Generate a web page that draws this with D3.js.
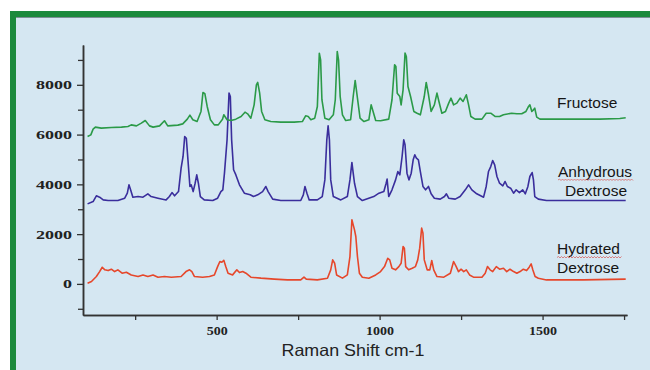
<!DOCTYPE html>
<html>
<head>
<meta charset="utf-8">
<script src="https://cdn.jsdelivr.net/npm/d3@7"></script>
<style>
  body { margin: 0; background: #fff; }
  svg { display: block; }
</style>
</head>
<body>
<div id="chart"></div>
<script>
// Raman spectra, [shift cm-1, intensity].
const fructose = [
  [104,5920],[114,5990],[121,6220],[128,6300],[146,6260],[177,6285],[208,6300],[228,6325],[238,6390],[254,6350],
  [269,6460],[281,6565],[294,6350],[305,6300],[325,6350],[340,6555],[350,6350],[381,6380],[396,6430],[410,6620],
  [418,6780],[427,6595],[440,6525],[452,6930],[458,7690],[464,7640],[471,7130],[481,6595],[493,6390],[505,6390],
  [518,6620],[522,6795],[532,6595],[544,6565],[559,6620],[575,6725],[587,6900],[595,6835],[605,6660],[615,7195],
  [622,8000],[626,8095],[632,7665],[638,6930],[648,6595],[666,6525],[697,6500],[738,6500],[763,6525],[773,6755],
  [781,6725],[789,6595],[801,6660],[809,7130],[815,9270],[819,9005],[823,7400],[832,6660],[845,6595],[858,6795],
  [864,7400],[870,9340],[874,9005],[879,7530],[886,6795],[896,6565],[911,6595],[919,7530],[925,8175],[932,7465],
  [940,6660],[952,6525],[967,6595],[974,7195],[980,6930],[988,6565],[1003,6555],[1028,6620],[1038,7400],[1046,8805],
  [1050,8735],[1054,7665],[1062,7530],[1066,7195],[1072,7800],[1078,9275],[1082,9140],[1087,7935],[1095,7530],[1105,6930],
  [1115,6860],[1125,6795],[1137,7530],[1143,8095],[1150,7600],[1158,6930],[1168,7195],[1176,7665],[1182,7330],[1191,6860],
  [1202,6930],[1212,7265],[1219,7465],[1227,7195],[1237,7265],[1247,7465],[1256,7330],[1266,7600],[1273,7195],[1280,6725],
  [1293,6620],[1314,6620],[1327,6860],[1341,6860],[1355,6725],[1368,6725],[1380,6795],[1405,6860],[1421,6835],[1436,6835],
  [1449,6930],[1457,7130],[1461,7195],[1467,6930],[1472,6995],[1476,7060],[1482,6700],[1492,6620],[1574,6620],[1676,6620],
  [1737,6645],[1755,6675]
]

const anhydrousDextrose = [
  [104,3215],[121,3310],[131,3540],[141,3485],[152,3375],[167,3350],[197,3350],[218,3445],[226,3645],[231,3980],
  [236,3780],[243,3485],[259,3510],[274,3485],[289,3620],[299,3510],[320,3445],[345,3375],[355,3510],[363,3670],
  [371,3540],[383,3710],[391,4650],[397,5120],[402,5920],[407,5855],[412,4985],[418,3915],[422,3980],[428,3710],
  [434,4045],[439,4380],[444,4045],[450,3510],[462,3375],[488,3350],[503,3445],[513,3710],[519,3780],[524,4450],
  [532,5790],[538,7665],[542,7530],[546,5790],[552,4585],[559,4380],[570,3980],[585,3645],[603,3580],[613,3510],
  [626,3580],[641,3710],[651,3915],[658,3710],[672,3405],[697,3350],[758,3350],[766,3580],[771,3915],[777,3645],
  [784,3375],[809,3375],[824,3510],[832,4180],[838,5790],[842,6350],[846,5790],[850,4180],[858,3510],[881,3375],
  [901,3510],[909,4180],[915,4880],[919,4450],[923,4045],[932,3510],[947,3350],[982,3510],[998,3645],[1013,3710],
  [1020,4045],[1023,4210],[1028,3510],[1038,3780],[1049,4180],[1056,4515],[1062,4380],[1069,5120],[1074,5790],[1078,5590],
  [1084,4450],[1090,4180],[1097,4450],[1103,4985],[1108,5185],[1113,5050],[1119,4985],[1125,4515],[1133,3915],[1141,3780],
  [1150,3915],[1158,3620],[1168,3445],[1186,3405],[1199,3510],[1205,3620],[1212,3445],[1232,3405],[1247,3510],[1263,3780],
  [1273,3980],[1283,3780],[1298,3620],[1319,3485],[1327,3915],[1334,4515],[1341,4715],[1347,4960],[1353,4785],[1360,4315],
  [1368,4045],[1378,3940],[1385,4115],[1392,3915],[1402,3845],[1411,3645],[1419,3780],[1429,3670],[1439,3780],[1447,3620],
  [1455,3915],[1461,4315],[1468,4475],[1472,4180],[1476,3510],[1487,3405],[1512,3350],[1625,3350],[1755,3350]
]

const hydratedDextrose = [
  [104,25],[116,95],[131,295],[141,495],[149,670],[157,565],[167,535],[177,590],[187,495],[197,565],
  [210,430],[223,470],[238,360],[259,295],[274,360],[289,295],[305,360],[320,270],[340,295],[361,270],
  [391,295],[406,495],[417,565],[424,495],[432,295],[457,270],[478,295],[493,360],[503,695],[510,900],
  [516,870],[522,950],[528,700],[535,430],[549,362],[562,565],[570,455],[580,495],[590,430],[605,270],
  [636,230],[677,190],[717,160],[758,160],[768,270],[775,190],[809,160],[840,230],[850,565],[856,965],
  [862,830],[868,360],[886,230],[901,360],[909,1100],[915,2575],[919,2370],[923,2170],[927,1905],[932,1100],
  [938,430],[947,270],[967,230],[988,360],[1003,495],[1015,695],[1025,1030],[1031,965],[1038,630],[1049,565],
  [1059,695],[1066,830],[1072,1500],[1076,1435],[1080,695],[1089,565],[1100,630],[1110,695],[1117,965],[1123,1435],
  [1129,2240],[1133,2035],[1137,965],[1146,565],[1154,565],[1160,940],[1166,565],[1176,295],[1197,270],[1217,430],
  [1227,900],[1235,695],[1242,495],[1250,590],[1258,495],[1266,565],[1276,360],[1288,270],[1314,270],[1324,430],
  [1331,695],[1339,565],[1347,495],[1358,695],[1368,590],[1380,630],[1390,495],[1400,590],[1411,495],[1421,430],
  [1431,495],[1441,590],[1451,535],[1459,670],[1465,805],[1470,565],[1477,295],[1487,230],[1512,160],[1625,160],
  [1755,190]
]

const xMajorTicks = [500, 1000, 1500]
const xMinorTicks = [250, 750, 1250, 1750]
const yMajorTicks = [0, 2000, 4000, 6000, 8000]
const yMinorTicks = [-1000, 1000, 3000, 5000, 7000, 9000]

const seriesNames = [["Fructose"], ["Anhydrous", "Dextrose"], ["Hydrated", "Dextrose"]]
const seriesColors = ["#2b9a48", "#3a2e9c", "#e6472b"]

const width = 650
const height = 370

const svg = d3.select("#chart")
  .append("svg")
  .attr("width", width)
  .attr("height", height)

// Green frame with the light blue panel.
svg.append("rect")
  .attr("x", 13)
  .attr("y", 14)
  .attr("width", 680)
  .attr("height", 400)
  .attr("fill", "#d5e7f2")
  .attr("stroke", "#1c8a3d")
  .attr("stroke-width", 6)

svg.append("line")
  .attr("x1", 16).attr("x2", width)
  .attr("y1", 17.5).attr("y2", 17.5)
  .attr("stroke", "#7d8f96")
  .attr("stroke-width", 1)

const x = d3.scaleLinear().domain([90, 1759]).range([83, 627])
const y = d3.scaleLinear().domain([-1250, 9600]).range([315, 45])

const axisColor = "#333"

function styleAxis(g) {
  g.select(".domain").attr("stroke", axisColor).attr("stroke-width", 1.5)
  g.selectAll(".tick line").attr("stroke", axisColor).attr("stroke-width", 1.3)
}

// y axis
svg.append("g")
  .attr("transform", `translate(${x.range()[0]},0)`)
  .call(d3.axisLeft(y).tickValues(yMinorTicks).tickSize(5).tickSizeOuter(0).tickFormat(""))
  .call(styleAxis)

svg.append("g")
  .attr("transform", `translate(${x.range()[0]},0)`)
  .call(d3.axisLeft(y).tickValues(yMajorTicks).tickSize(6).tickPadding(5).tickSizeOuter(0).tickFormat(d3.format("d")))
  .call(styleAxis)
  .call(g => g.selectAll("text")
    .attr("fill", "#222")
    .attr("font-family", "'Liberation Serif', 'DejaVu Serif', serif")
    .attr("font-weight", "bold")
    .attr("font-size", 12.5)
    .attr("textLength", d => String(d).length * 9)
    .attr("lengthAdjust", "spacingAndGlyphs"))

// x axis
svg.append("g")
  .attr("transform", `translate(0,${y.range()[0]})`)
  .call(d3.axisBottom(x).tickValues(xMinorTicks).tickSize(5).tickSizeOuter(0).tickFormat(""))
  .call(styleAxis)

svg.append("g")
  .attr("transform", `translate(0,${y.range()[0]})`)
  .call(d3.axisBottom(x).tickValues(xMajorTicks).tickSize(5).tickPadding(6).tickSizeOuter(0).tickFormat(d3.format("d")))
  .call(styleAxis)
  .call(g => g.selectAll("text")
    .attr("fill", "#222")
    .attr("font-family", "'Liberation Serif', 'DejaVu Serif', serif")
    .attr("font-weight", "bold")
    .attr("font-size", 12)
    .attr("textLength", d => String(d).length * 7)
    .attr("lengthAdjust", "spacingAndGlyphs"))

svg.append("text")
  .attr("x", 353)
  .attr("y", 356)
  .attr("text-anchor", "middle")
  .attr("font-family", "'Liberation Sans', Arial, sans-serif")
  .attr("font-size", 16.5)
  .attr("fill", "#222")
  .attr("textLength", 143)
  .attr("lengthAdjust", "spacingAndGlyphs")
  .text("Raman Shift cm-1")

// spectra
const line = d3.line()
  .x(d => x(d[0]))
  .y(d => y(d[1]))

svg.append("g")
  .selectAll("path")
  .data([hydratedDextrose, anhydrousDextrose, fructose])
  .join("path")
  .attr("d", line)
  .attr("fill", "none")
  .attr("stroke", (d, i) => seriesColors[2 - i])
  .attr("stroke-width", 1.6)
  .attr("stroke-linejoin", "round")

// series labels
const labelPos = [
  [[557, 108]],
  [[558, 177], [565, 196]],
  [[557, 254], [557, 273]]
]

seriesNames.forEach((lines, i) => {
  lines.forEach((t, j) => {
    svg.append("text")
      .attr("x", labelPos[i][j][0])
      .attr("y", labelPos[i][j][1])
      .attr("font-family", "'Liberation Sans', Arial, sans-serif")
      .attr("font-size", 15.5)
      .attr("fill", "#151515")
      .text(t)
  })
})

// the spell-check squiggles under two of the labels
function squiggle(x0, x1, yy) {
  const p = d3.path()
  p.moveTo(x0, yy)
  let up = true
  for (let xx = x0 + 1.5; xx <= x1; xx += 1.5) {
    p.lineTo(xx, up ? yy - 1 : yy + 0.5)
    up = !up
  }
  return p.toString()
}

;[[558, 633, 180], [557, 622, 257.5]].forEach(s => {
  svg.append("path")
    .attr("d", squiggle(s[0], s[1], s[2]))
    .attr("fill", "none")
    .attr("stroke", "#d9534f")
    .attr("stroke-width", 0.7)
})
</script>
</body>
</html>
